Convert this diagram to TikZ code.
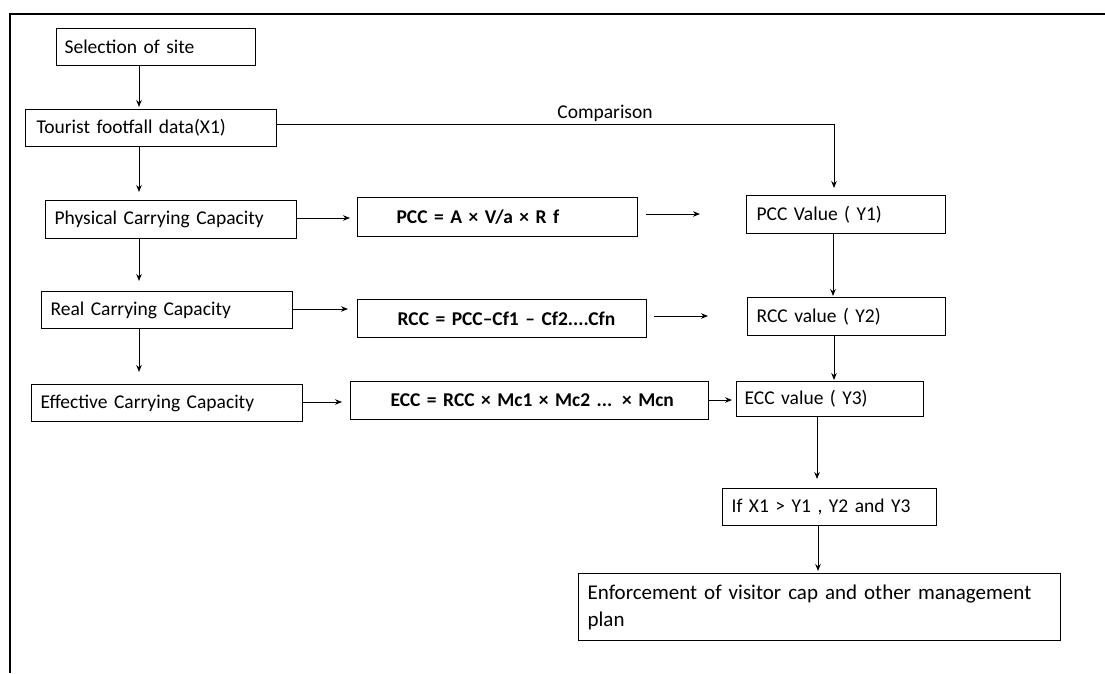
\documentclass[tikz,border=0pt]{standalone}
\usepackage{fontspec}
\setmainfont{Carlito}
\usetikzlibrary{arrows.meta}
\begin{document}
\begin{tikzpicture}[x=1pt,y=-1pt,
  bx/.style={draw, line width=1.2pt, anchor=north west, align=left, font=\fontsize{19.5}{27}\selectfont, inner ysep=2pt},
  fb/.style={bx, font=\fontsize{19.5}{27}\selectfont\bfseries, inner xsep=4pt},
  arr/.style={line width=1pt, -{Stealth[length=7pt,width=5.5pt]}},
  frame/.style={line width=2.2pt}]
\useasboundingbox (0,0) rectangle (1105,673);
% frame
\draw[frame] (10,673) -- (10,14) -- (1105,14);
% left column
\node[bx, minimum width=199pt, minimum height=37pt, inner xsep=8pt, text width=183pt] (sel) at (56,28) {Selection of site};
\node[bx, minimum width=251pt, minimum height=37pt, inner xsep=11pt, text width=229pt] (tou) at (25,109) {Tourist footfall data(X1)};
\node[bx, minimum width=251pt, minimum height=38pt, inner xsep=9pt, text width=233pt] (phy) at (45,200) {Physical Carrying Capacity};
\node[bx, minimum width=251pt, minimum height=37pt, inner xsep=9pt, text width=233pt] (rea) at (41,291) {Real Carrying Capacity};
\node[bx, minimum width=271pt, minimum height=37pt, inner xsep=9pt, text width=253pt] (eff) at (31,384) {Effective Carrying Capacity};
% formulas
\node[fb, minimum width=280pt, minimum height=39pt, text width=272pt] (pccf) at (357,197) {\hspace*{35pt}PCC = A × V/a × R f};
\node[fb, minimum width=289pt, minimum height=38pt, text width=281pt] (rccf) at (357,299) {\hspace*{36pt}RCC = PCC–Cf1 – Cf2....Cfn};
\node[fb, minimum width=358pt, minimum height=38pt, text width=350pt] (eccf) at (350,381) {\hspace*{36pt}ECC = RCC × Mc1 × Mc2 ... × Mcn};
% values
\node[bx, minimum width=199pt, minimum height=38pt, inner xsep=10pt, text width=179pt] (pccv) at (746,195) {PCC Value ( Y1)};
\node[bx, minimum width=198pt, minimum height=38pt, inner xsep=9pt, text width=180pt] (rccv) at (747,297) {RCC value ( Y2)};
\node[bx, minimum width=187pt, minimum height=35pt, inner xsep=8pt, text width=171pt] (eccv) at (736,381) {ECC value ( Y3)};
\node[bx, minimum width=214pt, minimum height=37pt, inner xsep=9pt, text width=196pt] (cond) at (722,488) {If X1 > Y1 , Y2 and Y3};
\node[bx, font=\fontsize{21}{27}\selectfont, minimum width=482pt, minimum height=67pt, inner xsep=9pt, text width=464pt] (enf) at (578,573) {Enforcement of visitor cap and other management\\plan};
% vertical arrows left
\draw[arr] (sel.south -| 139,0) -- (139,107);
\draw[arr] (tou.south -| 139,0) -- (139,192);
\draw[arr] (phy.south -| 139,0) -- (139,281);
\draw[arr] (rea.south -| 139,0) -- (139,372);
% horizontal arrows
\draw[arr] (phy.east |- 0,218) -- (350,218);
\draw[arr] (rea.east |- 0,309) -- (348,309);
\draw[arr] (eff.east |- 0,402) -- (342,402);
\draw[arr] (646,214) -- (700,214);
\draw[arr] (654,316) -- (708,316);
\draw[arr] (eccf.east |- 0,400) -- (732,400);
% comparison
\draw[arr] (tou.east |- 0,124) -- (834,124) -- (834,188);
\node[font=\fontsize{19.5}{27}\selectfont, anchor=south, inner sep=2pt] (cmp) at (605,124) {Comparison};
% right column
\draw[arr] (pccv.south -| 833,0) -- (833,296);
\draw[arr] (rccv.south -| 834,0) -- (834,380);
\draw[arr] (eccv.south -| 817,0) -- (817,479);
\draw[arr] (cond.south -| 818,0) -- (818,571);
\end{tikzpicture}
\end{document}
